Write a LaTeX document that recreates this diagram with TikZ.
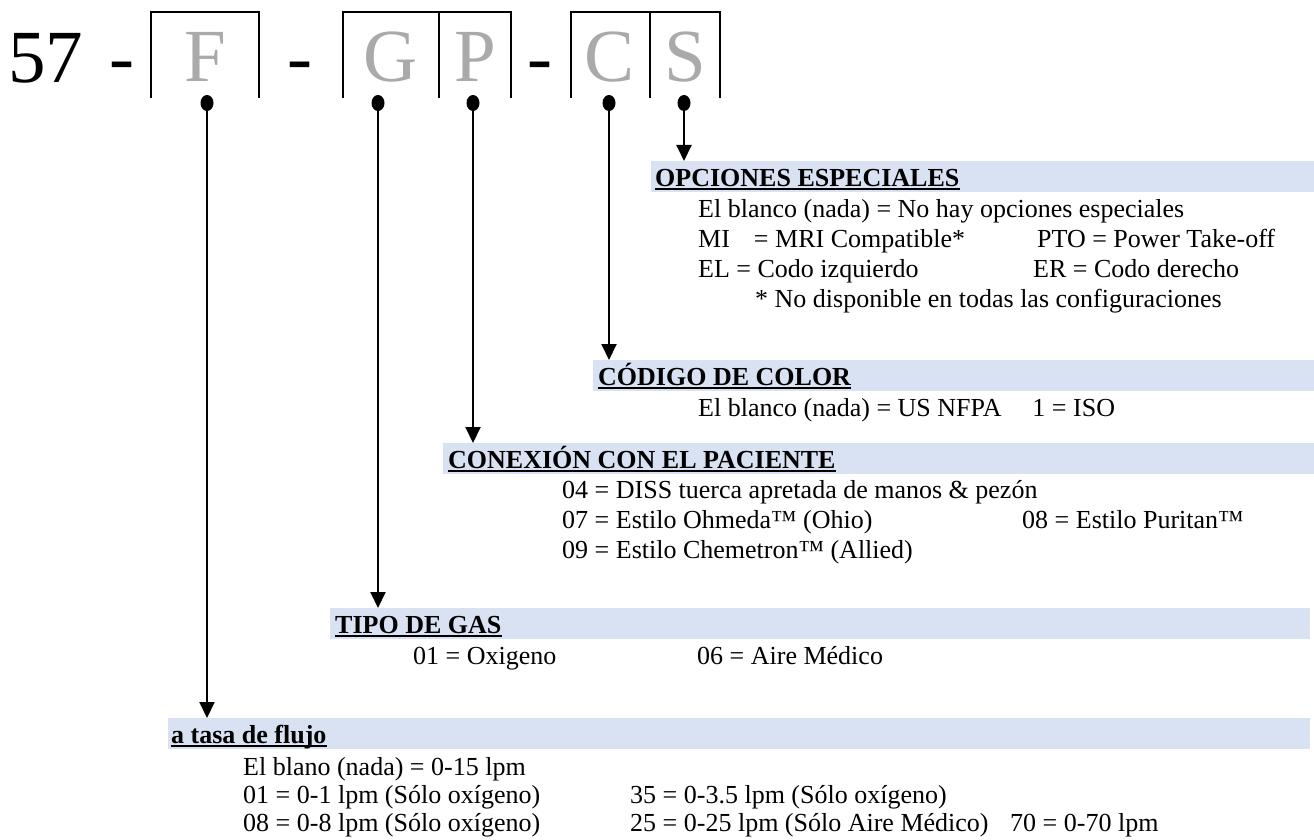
\documentclass[tikz,border=0pt]{standalone}
\usepackage{fontspec}
\setmainfont{Liberation Serif}
\usetikzlibrary{arrows.meta,shapes.geometric}
\definecolor{bandblue}{RGB}{217,226,242}
\definecolor{codegray}{RGB}{170,170,170}

\begin{document}
\begin{tikzpicture}[x=1pt,y=-1pt]

%
% Styles
%
\tikzstyle{big}     = [inner sep=0pt,anchor=base,font=\fontsize{75}{80}\selectfont]
\tikzstyle{code}    = [big,text=codegray]
\tikzstyle{pin}     = [ellipse,fill=black,inner sep=0pt,minimum width=13pt,minimum height=16pt]
\tikzstyle{band}    = [rectangle,fill=bandblue,anchor=north west,inner sep=0pt,minimum height=31pt]
\tikzstyle{head}    = [anchor=base west,inner sep=0pt,font=\fontsize{26}{30}\selectfont\bfseries]
\tikzstyle{item}    = [anchor=base west,inner sep=0pt,font=\fontsize{26}{30}\selectfont]
\tikzstyle{uline}   = [line width=2.5pt]
\tikzstyle{stem}    = [line width=2pt,-{Triangle[width=15pt,length=16pt]}]
\tikzstyle{boxline} = [line width=2pt]

\useasboundingbox (0,0) rectangle (1314,840);

%
% Part number
%
\node[big,anchor=base west] (num) at (  8, 83) {57};
\node[big] (dashA) at (122, 83) {-};
\node[big] (dashB) at (300, 83) {-};
\node[big] (dashC) at (540, 83) {-};

\draw[boxline] (151,98) -- (151,12) -- (259,12) -- (259,98);
\draw[boxline] (343,98) -- (343,12) -- (511,12) -- (511,98);
\draw[boxline] (439,12) -- (439,98);
\draw[boxline] (571,98) -- (571,12) -- (720,12) -- (720,98);
\draw[boxline] (650,12) -- (650,98);

\node[code] (F) at (205, 82) {F};
\node[code] (G) at (391, 82) {G};
\node[code] (P) at (475, 82) {P};
\node[code] (C) at (610, 82) {C};
\node[code] (S) at (685, 82) {S};

\node[pin] (pinF) at (207, 103) {};
\node[pin] (pinG) at (378, 103) {};
\node[pin] (pinP) at (473, 103) {};
\node[pin] (pinC) at (609, 103) {};
\node[pin] (pinS) at (684, 103) {};

%
% Header bands
%
\node[band,minimum width=663pt]  (bandOpc) at (651, 161) {};
\node[band,minimum width=721pt]  (bandCod) at (593, 360) {};
\node[band,minimum width=871pt]  (bandCon) at (443, 443) {};
\node[band,minimum width=980pt]  (bandGas) at (330, 608) {};
\node[band,minimum width=1142pt] (bandFlu) at (168, 718) {};

\node[head] (hOpc) at (655, 186) {OPCIONES ESPECIALES};
\node[head] (hCod) at (598, 385) {CÓDIGO DE COLOR};
\node[head] (hCon) at (448, 468) {CONEXIÓN CON EL PACIENTE};
\node[head] (hGas) at (335, 633) {TIPO DE GAS};
\node[head] (hFlu) at (171, 743) {a tasa de flujo};

\foreach \h in {hOpc,hCod,hCon,hGas,hFlu}
  \draw[uline] ([yshift=-3pt]\h.base west) -- ([yshift=-3pt]\h.base east);

%
% Arrows
%
\draw[stem] (pinS) -- (pinS |- bandOpc.north);
\draw[stem] (pinC) -- (pinC |- bandCod.north);
\draw[stem] (pinP) -- (pinP |- bandCon.north);
\draw[stem] (pinG) -- (pinG |- bandGas.north);
\draw[stem] (pinF) -- (pinF |- bandFlu.north);

%
% Options
%
\node[item] (opcA) at ( 698, 217) {El blanco (nada) = No hay opciones especiales};
\node[item] (opcB) at ( 698, 247) {MI\hspace{24pt}= MRI Compatible*};
\node[item] (opcC) at (1037, 247) {PTO = Power Take-off};
\node[item] (opcD) at ( 698, 277) {EL = Codo izquierdo};
\node[item] (opcE) at (1033, 277) {ER = Codo derecho};
\node[item] (opcF) at ( 755, 307) {* No disponible en todas las configuraciones};

\node[item] (codA) at ( 698, 416) {El blanco (nada) = US NFPA\hspace{31pt}1 = ISO};

\node[item] (conA) at ( 562, 498) {04 = DISS tuerca apretada de manos \& pezón};
\node[item] (conB) at ( 562, 528) {07 = Estilo Ohmeda™ (Ohio)};
\node[item] (conC) at (1022, 528) {08 = Estilo Puritan™};
\node[item] (conD) at ( 562, 558) {09 = Estilo Chemetron™ (Allied)};

\node[item] (gasA) at ( 413, 664) {01 = Oxigeno};
\node[item] (gasB) at ( 697, 664) {06 = Aire Médico};

\node[item] (fluA) at ( 243, 775) {El blano (nada) = 0-15 lpm};
\node[item] (fluB) at ( 243, 803) {01 = 0-1 lpm (Sólo oxígeno)};
\node[item] (fluC) at ( 630, 803) {35 = 0-3.5 lpm (Sólo oxígeno)};
\node[item] (fluD) at ( 243, 831) {08 = 0-8 lpm (Sólo oxígeno)};
\node[item] (fluE) at ( 630, 831) {25 = 0-25 lpm (Sólo Aire Médico)};
\node[item] (fluF) at (1010, 831) {70 = 0-70 lpm};

\end{tikzpicture}
\end{document}
